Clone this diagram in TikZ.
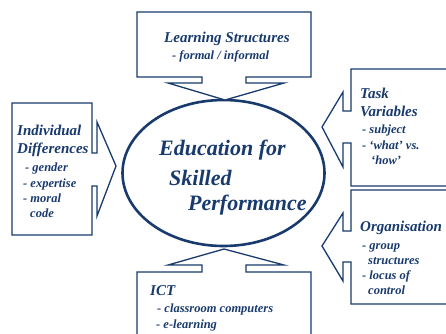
\documentclass[tikz,border=0pt]{standalone}
\usepackage{fontspec}
\setmainfont{Liberation Serif}
\definecolor{navy}{RGB}{24,58,108}
\tikzset{
  callout/.style={draw=navy, line width=1.3pt, line join=miter, fill=white},
  head/.style={anchor=base west, inner sep=0pt, text=navy, font=\fontsize{15}{17}\selectfont\bfseries\itshape},
  item/.style={anchor=base west, inner sep=0pt, text=navy, font=\fontsize{12.5}{14}\selectfont\bfseries\itshape},
  big/.style={anchor=base west, inner sep=0pt, text=navy, font=\fontsize{22}{26}\selectfont\bfseries\itshape},
}
\begin{document}
\begin{tikzpicture}[x=1pt,y=-1pt]
\useasboundingbox (0,0) rectangle (446,333);
\clip (0,0) rectangle (446,333);
% central ellipse
\draw[navy, line width=2.6pt] (223.5,173) ellipse [x radius=101, y radius=73];
% Learning Structures callout
\draw[callout] (137,12) -- (311,12) -- (311,77) -- (246,77) -- (246,83) -- (284,83) -- (225,100) -- (168,83) -- (202,83) -- (202,77) -- (137,77) -- cycle;
% Individual Differences callout
\draw[callout] (12,103) -- (92,103) -- (92,153) -- (97,153) -- (97,122) -- (116,166) -- (97,216) -- (97,186) -- (92,186) -- (92,235) -- (12,235) -- cycle;
% Task Variables callout
\draw[callout] (460,69) -- (351,69) -- (351,111) -- (343,111) -- (343,92) -- (322,127) -- (343,167) -- (343,143) -- (351,143) -- (351,186) -- (460,186);
% Organisation callout
\draw[callout] (460,190) -- (351,190) -- (351,231) -- (343,231) -- (343,213) -- (322,246) -- (343,281) -- (343,262) -- (351,262) -- (351,304) -- (460,304);
% ICT callout
\draw[callout] (137,345) -- (137,272) -- (202,272) -- (202,265) -- (168,265) -- (224,249) -- (284,265) -- (246,265) -- (246,272) -- (311,272) -- (311,345);
% centre text
\node[big] (c1) at (159,155) {Education for};
\node[big] (c2) at (169,185) {Skilled};
\node[big] (c3) at (188,210) {Performance};
% Learning Structures
\node[head] (l1) at (164,42) {Learning Structures};
\node[item] (l2) at (172,59) {- formal / informal};
% Individual Differences
\node[head] (d1) at (17,135) {Individual};
\node[head] (d2) at (17,153) {Differences};
\node[item] (d3) at (25,171) {- gender};
\node[item] (d4) at (23,187) {- expertise};
\node[item] (d5) at (23,202) {- moral};
\node[item] (d6) at (30,217) {code};
% Task Variables
\node[head] (t1) at (360,98) {Task};
\node[head] (t2) at (360,116) {Variables};
\node[item] (t3) at (362,133) {- subject};
\node[item] (t4) at (362,149) {- ‘what’ vs.};
\node[item] (t5) at (371,164) {‘how’};
% Organisation
\node[head] (o1) at (360,231) {Organisation};
\node[item] (o2) at (362,249) {- group};
\node[item] (o3) at (368,264) {structures};
\node[item] (o4) at (362,279) {- locus of};
\node[item] (o5) at (368,294) {control};
% ICT
\node[head] (i1) at (150,295) {ICT};
\node[item] (i2) at (157,312) {- classroom computers};
\node[item] (i3) at (156,328) {- e-learning};
\end{tikzpicture}
\end{document}
